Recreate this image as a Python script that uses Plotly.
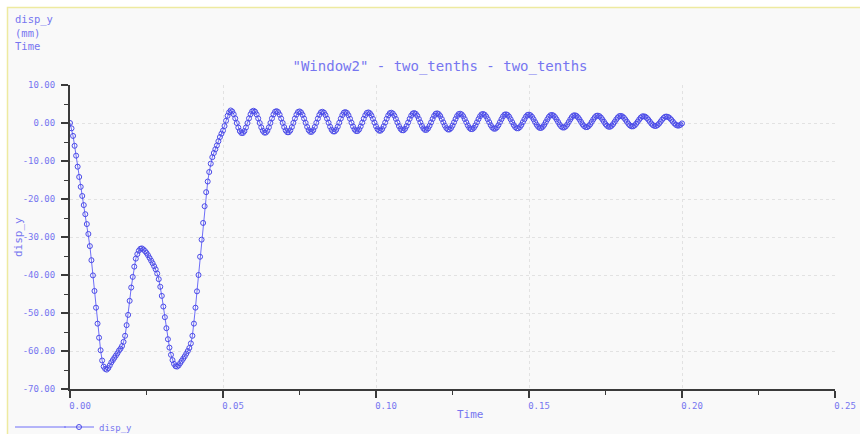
import plotly.graph_objects as go

# ---------------- data ----------------
SAMPLE_STEP = 0.0005  # s, uniform sample spacing of the recorded signal

# disp_y (mm) from t = 0.0000 to 0.0520 s
disp_y_impact = [
    0.0, -1.4, -3.4, -6.0, -8.6, -11.5, -14.2, -16.8, -19.2, -21.6,
    -24.0, -26.6, -29.2, -32.4, -36.1, -40.1, -44.2, -48.6, -52.8, -56.5,
    -59.8, -62.5, -64.1, -64.7, -64.9, -64.5, -63.8, -63.0, -62.4, -61.8,
    -61.2, -60.6, -59.9, -59.4, -58.7, -57.6, -56.0, -53.2, -50.5, -46.8,
    -43.3, -40.5, -37.8, -35.7, -34.5, -33.6, -33.1, -33.0, -33.3, -33.7,
    -34.2, -34.8, -35.5, -36.2, -36.9, -37.7, -38.5, -39.6, -41.1, -43.1,
    -45.5, -48.3, -51.1, -54.0, -56.9, -59.1, -61.0, -62.4, -63.4, -64.0,
    -64.1, -63.8, -63.2, -62.6, -62.0, -61.4, -60.7, -60.0, -59.2, -58.0,
    -56.0, -52.8, -48.6, -44.3, -40.0, -35.2, -30.7, -26.3, -21.9, -18.2,
    -15.4, -12.9, -10.7, -9.0, -7.9, -6.9, -5.9, -4.8, -3.7, -2.8,
    -2.0, -0.8, 0.6, 1.9, 2.8,
]

# disp_y (mm) from t = 0.0525 to 0.2000 s (ring-down oscillation)
disp_y_ringdown = [
    3.30, 3.04, 2.31, 1.23, -0.01, -1.20, -2.13, -2.63, -2.63, -2.13, -1.20, -0.01, 1.23, 2.31, 3.04,
    3.22, 2.96, 2.25, 1.21, 0.01, -1.14, -2.04, -2.53, -2.53, -2.04, -1.14, 0.01, 1.21, 2.25, 2.96,
    3.13, 2.89, 2.20, 1.19, 0.03, -1.09, -1.95, -2.43, -2.43, -1.95, -1.09, 0.03, 1.19, 2.20, 2.89,
    3.05, 2.81, 2.15, 1.17, 0.05, -1.03, -1.87, -2.33, -2.33, -1.87, -1.03, 0.05, 1.17, 2.15, 2.81,
    2.96, 2.73, 2.09, 1.15, 0.07, -0.97, -1.78, -2.22, -2.22, -1.78, -0.97, 0.07, 1.15, 2.09, 2.73,
    2.88, 2.66, 2.04, 1.13, 0.09, -0.91, -1.69, -2.12, -2.12, -1.69, -0.91, 0.09, 1.13, 2.04, 2.66,
    2.79, 2.58, 1.99, 1.11, 0.11, -0.86, -1.61, -2.02, -2.02, -1.61, -0.86, 0.11, 1.11, 1.99, 2.58,
    2.71, 2.50, 1.93, 1.09, 0.13, -0.80, -1.52, -1.91, -1.91, -1.52, -0.80, 0.13, 1.09, 1.93, 2.50,
    2.62, 2.43, 1.88, 1.07, 0.15, -0.74, -1.43, -1.81, -1.81, -1.43, -0.74, 0.15, 1.07, 1.88, 2.43,
    2.54, 2.35, 1.83, 1.05, 0.17, -0.68, -1.35, -1.71, -1.71, -1.35, -0.68, 0.17, 1.05, 1.83, 2.35,
    2.45, 2.27, 1.77, 1.03, 0.19, -0.63, -1.26, -1.61, -1.61, -1.26, -0.63, 0.19, 1.03, 1.77, 2.27,
    2.37, 2.20, 1.72, 1.01, 0.21, -0.57, -1.17, -1.50, -1.50, -1.17, -0.57, 0.21, 1.01, 1.72, 2.20,
    2.28, 2.12, 1.67, 0.99, 0.23, -0.51, -1.09, -1.40, -1.40, -1.09, -0.51, 0.23, 0.99, 1.67, 2.12,
    2.20, 2.04, 1.61, 0.98, 0.25, -0.45, -1.00, -1.30, -1.30, -1.00, -0.45, 0.25, 0.98, 1.61, 2.04,
    2.11, 1.97, 1.56, 0.96, 0.27, -0.40, -0.91, -1.19, -1.19, -0.91, -0.40, 0.27, 0.96, 1.56, 1.97,
    2.03, 1.89, 1.50, 0.94, 0.29, -0.34, -0.82, -1.09, -1.09, -0.82, -0.34, 0.29, 0.94, 1.50, 1.89,
    1.94, 1.81, 1.45, 0.92, 0.31, -0.28, -0.74, -0.99, -0.99, -0.74, -0.28, 0.31, 0.92, 1.45, 1.81,
    1.86, 1.74, 1.40, 0.90, 0.33, -0.22, -0.65, -0.89, -0.89, -0.65, -0.22, 0.33, 0.90, 1.40, 1.74,
    1.77, 1.66, 1.34, 0.88, 0.35, -0.17, -0.56, -0.78, -0.78, -0.56, -0.17, 0.35, 0.88, 1.34, 1.66,
    1.69, 1.58, 1.29, 0.86, 0.37, -0.11, -0.48, -0.68, -0.68, -0.48, -0.11,
]

x_tick_values = [0.0, 0.05, 0.10, 0.15, 0.20, 0.25]
x_tick_labels = ["0.00", "0.05", "0.10", "0.15", "0.20", "0.25"]
y_tick_values = [10, 0, -10, -20, -30, -40, -50, -60, -70]
y_tick_labels = ["10.00", "0.00", "-10.00", "-20.00", "-30.00", "-40.00", "-50.00", "-60.00", "-70.00"]

series_name = "disp_y"
chart_title = '"Window2" - two_tenths - two_tenths'
corner_label_lines = ["disp_y", "(mm)", "Time"]

disp_y = disp_y_impact + disp_y_ringdown
time_s = [round(i * SAMPLE_STEP, 4) for i in range(len(disp_y))]

# ---------------- styling ----------------
W, H = 860, 434
ML, MR, MT, MB = 70, 25, 85, 45
PW, PH = W - ML - MR, H - MT - MB
TXT = "rgb(118,118,240)"
LINE = "rgb(110,110,248)"
MARK = "rgb(75,75,232)"
AX = "#3a3a3a"
FONT = "DejaVu Sans Mono"


def px(x):
    return (x - ML) / PW


def py(y):
    return (H - MB - y) / PH


fig = go.Figure()
fig.add_trace(go.Scatter(
    x=time_s, y=disp_y, name=series_name, mode="lines+markers",
    line=dict(color=LINE, width=1),
    marker=dict(symbol="circle-open", size=5, color=MARK, line=dict(width=1)),
))

axis_common = dict(
    showline=True, linecolor=AX, linewidth=2,
    ticks="outside", tickcolor=AX, tickwidth=1.5, ticklen=7,
    showgrid=True, gridcolor="#e2e2e2", griddash="dot", gridwidth=1,
    zeroline=False, tickfont=dict(family=FONT, size=9, color=TXT),
)

fig.update_xaxes(
    range=[0, 0.25], tickmode="array", tickvals=x_tick_values, ticktext=x_tick_labels,
    minor=dict(dtick=0.025, ticklen=4, tickcolor=AX, tickwidth=1.2, ticks="outside", showgrid=False),
    ticklabelshift=10, **axis_common,
)
fig.update_yaxes(
    range=[-70, 10], tickmode="array", tickvals=y_tick_values, ticktext=y_tick_labels,
    minor=dict(dtick=5, ticklen=4, tickcolor=AX, tickwidth=1.2, ticks="outside", showgrid=False),
    ticklabelstandoff=4, **axis_common,
)

shapes = [
    # window frame: light panel with a pale yellow border
    dict(type="rect", xref="paper", yref="paper", layer="below",
         x0=px(7.5), x1=px(W + 20), y0=py(H + 20), y1=py(7.5),
         fillcolor="#f9f9f9", line=dict(color="#eeeaa0", width=1.5)),
    # extension of the legend line sample
    dict(type="line", xref="paper", yref="paper",
         x0=px(15), x1=px(66), y0=py(427), y1=py(427),
         line=dict(color=LINE, width=1)),
]

annotations = [
    dict(text="<br>".join(corner_label_lines), x=px(13), y=py(11), xanchor="left", yanchor="top",
         align="left", showarrow=False, xref="paper", yref="paper",
         font=dict(family=FONT, size=10.5, color=TXT)),
    dict(text="disp_y", x=px(18), y=py(237), textangle=-90, xanchor="center", yanchor="middle",
         showarrow=False, xref="paper", yref="paper", font=dict(family=FONT, size=11, color=TXT)),
    dict(text="Time", x=px(470), y=py(414), xanchor="center", yanchor="middle",
         showarrow=False, xref="paper", yref="paper", font=dict(family=FONT, size=11, color=TXT)),
]

fig.update_layout(
    width=W, height=H,
    margin=dict(l=ML, r=MR, t=MT, b=MB, autoexpand=False),
    paper_bgcolor="white", plot_bgcolor="rgba(0,0,0,0)",
    title=dict(text=chart_title, x=440 / W, y=1 - 66 / H, xref="container", yref="container",
               xanchor="center", yanchor="middle",
               font=dict(family=FONT, size=14, color=TXT)),
    showlegend=True,
    legend=dict(x=px(59), y=py(427), xanchor="left", yanchor="middle",
                bgcolor="rgba(0,0,0,0)", borderwidth=0,
                font=dict(family=FONT, size=9, color=TXT)),
    shapes=shapes, annotations=annotations,
)

fig.write_html("out.html")
